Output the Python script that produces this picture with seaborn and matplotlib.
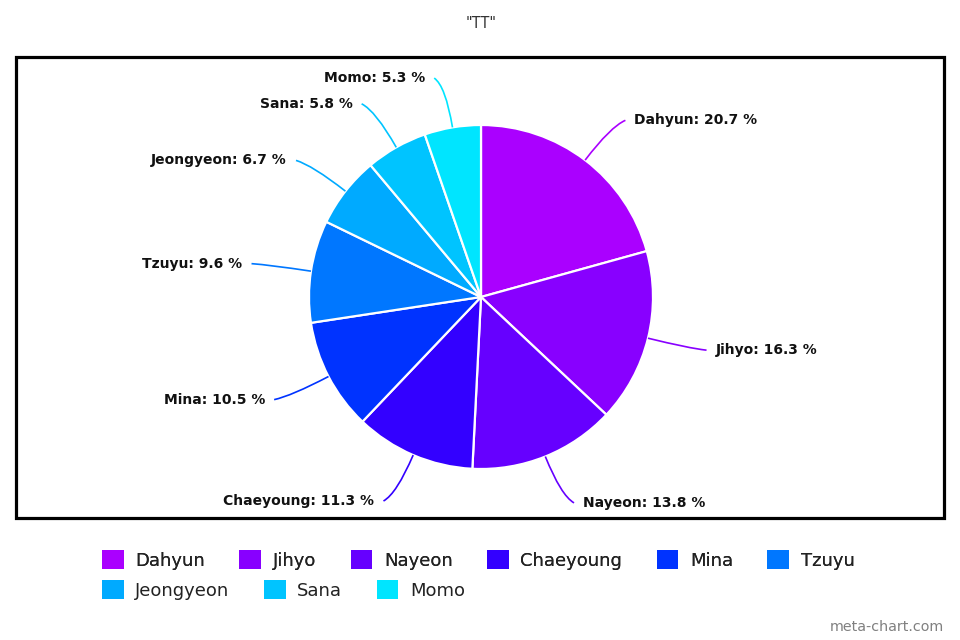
import numpy as np
import matplotlib
matplotlib.use("Agg")
import matplotlib.pyplot as plt
from matplotlib.path import Path
from matplotlib.patches import PathPatch, Rectangle, Patch
import seaborn as sns

# Share of each member
members = ["Dahyun", "Jihyo", "Nayeon", "Chaeyoung", "Mina",
           "Tzuyu", "Jeongyeon", "Sana", "Momo"]
shares = [20.7, 16.3, 13.8, 11.3, 10.5, 9.6, 6.7, 5.8, 5.3]
hex_colors = ["#AA00FF", "#8800FF", "#6600FF", "#3300FF", "#0033FF",
              "#0077FF", "#00AAFF", "#00C4FF", "#00E5FF"]
title_text = '"TT"'

sns.set_theme(style="white")
palette = sns.color_palette(hex_colors)
plt.rcParams["font.family"] = ["DejaVu Sans"]

W, H = 960, 640
fig = plt.figure(figsize=(W / 100, H / 100), dpi=100)
ax = fig.add_axes([0, 0, 1, 1])

# work in pixel units, y measured downward from the top edge
def py(y):
    return H - y

cx, cy, r = 481, 297, 172

wedges, _ = ax.pie(shares, colors=palette, startangle=90, counterclock=False,
                   center=(cx, py(cy)), radius=r,
                   wedgeprops=dict(edgecolor="white", linewidth=1.6))
ax.set_xlim(0, W)
ax.set_ylim(0, H)
ax.set_aspect("equal", adjustable="box")
ax.axis("off")

# plot-area frame
ax.add_patch(Rectangle((16, py(518)), 928, 518 - 57, fill=False,
                       edgecolor="black", linewidth=2.3, zorder=0))

# data labels with curved connectors
total = sum(shares)
cum = np.cumsum([0] + shares[:-1])
for name, val, start, col in zip(members, shares, cum, palette):
    mid = (start + val / 2) / total * 360.0
    rad = np.deg2rad(mid)
    sx, sy = np.sin(rad), -np.cos(rad)
    a = (cx + r * sx, cy + r * sy)
    d = r + 50
    b = (cx + d * sx, cy + d * sy)
    side = 1 if sx >= 0 else -1
    c = (b[0] + side * 10, b[1])
    ctrl = (cx + (r + 42) * sx, cy + (r + 42) * sy)
    path = Path([(a[0], py(a[1])), (ctrl[0], py(ctrl[1])), (c[0], py(c[1]))],
                [Path.MOVETO, Path.CURVE3, Path.CURVE3])
    ax.add_patch(PathPatch(path, fill=False, edgecolor=col, linewidth=1.2))
    ax.text(c[0] + side * 9, py(c[1]), f"{name}: {val} %",
            ha="left" if side > 0 else "right", va="center",
            fontsize=10, fontweight="bold", color="#111111")

# title and credit
fig.text(481 / W, 1 - 23 / H, title_text, ha="center", va="center",
         fontsize=10.5, color="#333333")
fig.text(887 / W, 1 - 627 / H, "meta-chart.com", ha="center", va="center",
         fontsize=10.3, color="#808080")

# legend rows
handles = [Patch(facecolor=c, edgecolor="none") for c in palette]
leg_kw = dict(frameon=False, fontsize=13, handlelength=1.2, handleheight=1.2,
              handletextpad=0.65, columnspacing=1.9, borderaxespad=0,
              borderpad=0, labelcolor="#222222")
leg1 = fig.legend(handles[:6], members[:6], ncol=6, loc="center left",
                  bbox_to_anchor=(102 / W, 1 - 560 / H), **leg_kw)
fig.add_artist(leg1)
fig.legend(handles[6:], members[6:], ncol=3, loc="center left",
           bbox_to_anchor=(102 / W, 1 - 590 / H), **leg_kw)

fig.savefig("out.png", dpi=100, facecolor="white")
